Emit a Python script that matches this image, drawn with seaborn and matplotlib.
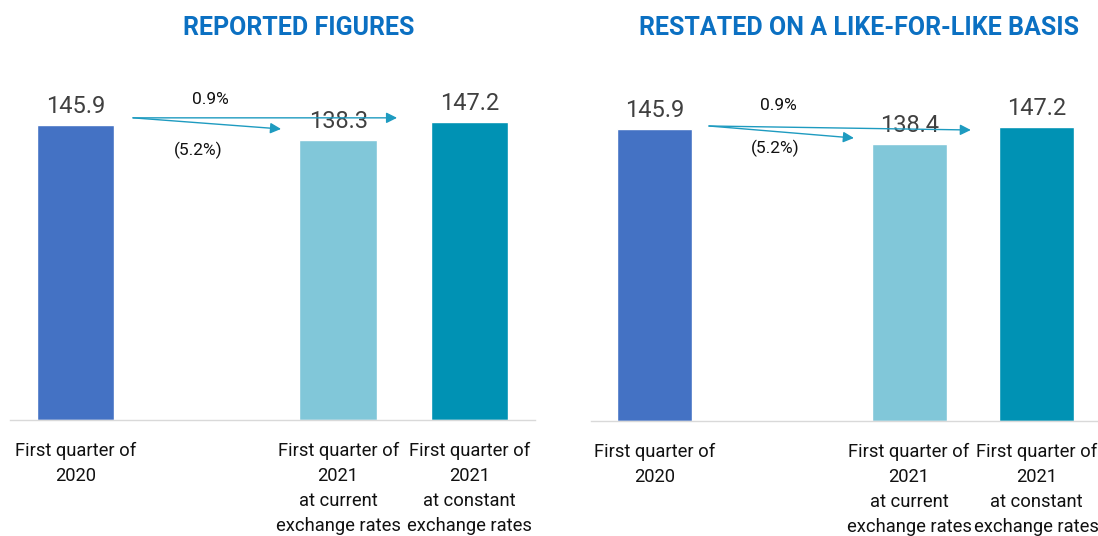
import matplotlib
matplotlib.use("Agg")
import matplotlib.pyplot as plt
import seaborn as sns
import pandas as pd

# ==========================
# DATOS
# ==========================
categories = [
    "First quarter of\n2020",
    " ",
    "First quarter of\n2021\nat current\nexchange rates",
    "First quarter of\n2021\nat constant\nexchange rates",
]
bar_categories = [categories[0], categories[2], categories[3]]
reported_values = [145.9, 138.3, 147.2]
restated_values = [145.9, 138.4, 147.2]
panel_titles = ["REPORTED FIGURES", "RESTATED ON A LIKE-FOR-LIKE BASIS"]
change_current = "(5.2%)"
change_constant = "0.9%"

colors = ["#4472C4", "#81C7D9", "#0092B4"]
arrow_color = "#1E9BC0"
title_color = "#0B70C2"

# ==========================
# FIGURA
# ==========================
sns.set_style("white")
plt.rcParams["font.family"] = ["Roboto", "DejaVu Sans"]

fig = plt.figure(figsize=(10.98, 5.36), dpi=100)
ax_left = fig.add_axes([10 / 1098, 116 / 536, 525 / 1098, 360 / 536])
ax_right = fig.add_axes([591 / 1098, 115 / 536, 509 / 1098, 361 / 536])

panels = [
    (ax_left, reported_values, 178,
     # inicio flecha, fin (5.2%), fin 0.9%, pos texto 0.9%, pos texto (5.2%)
     (0.437, 149.4), (1.565, 143.9), (2.449, 149.4), (1.024, 158.3), (0.932, 133.5)),
    (ax_right, restated_values, 180.5,
     (0.427, 147.5), (1.566, 141.5), (2.485, 145.5), (0.969, 158.0), (0.945, 136.5)),
]

for ax, values, ymax, start, end_cur, end_const, pos_const, pos_cur in panels:
    df = pd.DataFrame({"category": bar_categories, "value": values})
    sns.barplot(data=df, x="category", y="value", hue="category",
                order=categories, hue_order=bar_categories,
                palette=colors, width=0.59, saturation=1,
                legend=False, ax=ax)
    ax.set_ylim(0, ymax)
    ax.set_xlim(-0.5, 3.5)
    for container in ax.containers:
        ax.bar_label(container, fmt="%.1f", padding=5, fontsize=17, color="#404040")

    # Flechas de variación
    ax.annotate("", xy=end_cur, xytext=start,
                arrowprops=dict(arrowstyle="-|>", color=arrow_color, lw=1,
                                mutation_scale=16, shrinkA=0, shrinkB=0))
    ax.annotate("", xy=end_const, xytext=start,
                arrowprops=dict(arrowstyle="-|>", color=arrow_color, lw=1,
                                mutation_scale=16, shrinkA=0, shrinkB=0))
    ax.text(*pos_const, change_constant, ha="center", va="center", fontsize=12.5, color="#111111")
    ax.text(*pos_cur, change_current, ha="center", va="center", fontsize=12.5, color="#111111")

    # Ejes
    ax.set_xlabel("")
    ax.set_ylabel("")
    ax.set_yticks([])
    ax.set_xticks(range(len(categories)))
    ax.set_xticklabels(categories, linespacing=1.5, fontsize=13.2, color="#111111")
    ax.tick_params(axis="x", length=0, pad=16)
    for side in ["top", "left", "right"]:
        ax.spines[side].set_visible(False)
    ax.spines["bottom"].set_color("#D9D9D9")
    ax.spines["bottom"].set_linewidth(1)

fig.text(299 / 1098, 1 - 28 / 536, panel_titles[0], ha="center", va="center",
         fontsize=18, fontweight="bold", color=title_color)
fig.text(859 / 1098, 1 - 28 / 536, panel_titles[1], ha="center", va="center",
         fontsize=18, fontweight="bold", color=title_color)

fig.savefig("out.png", dpi=100)
